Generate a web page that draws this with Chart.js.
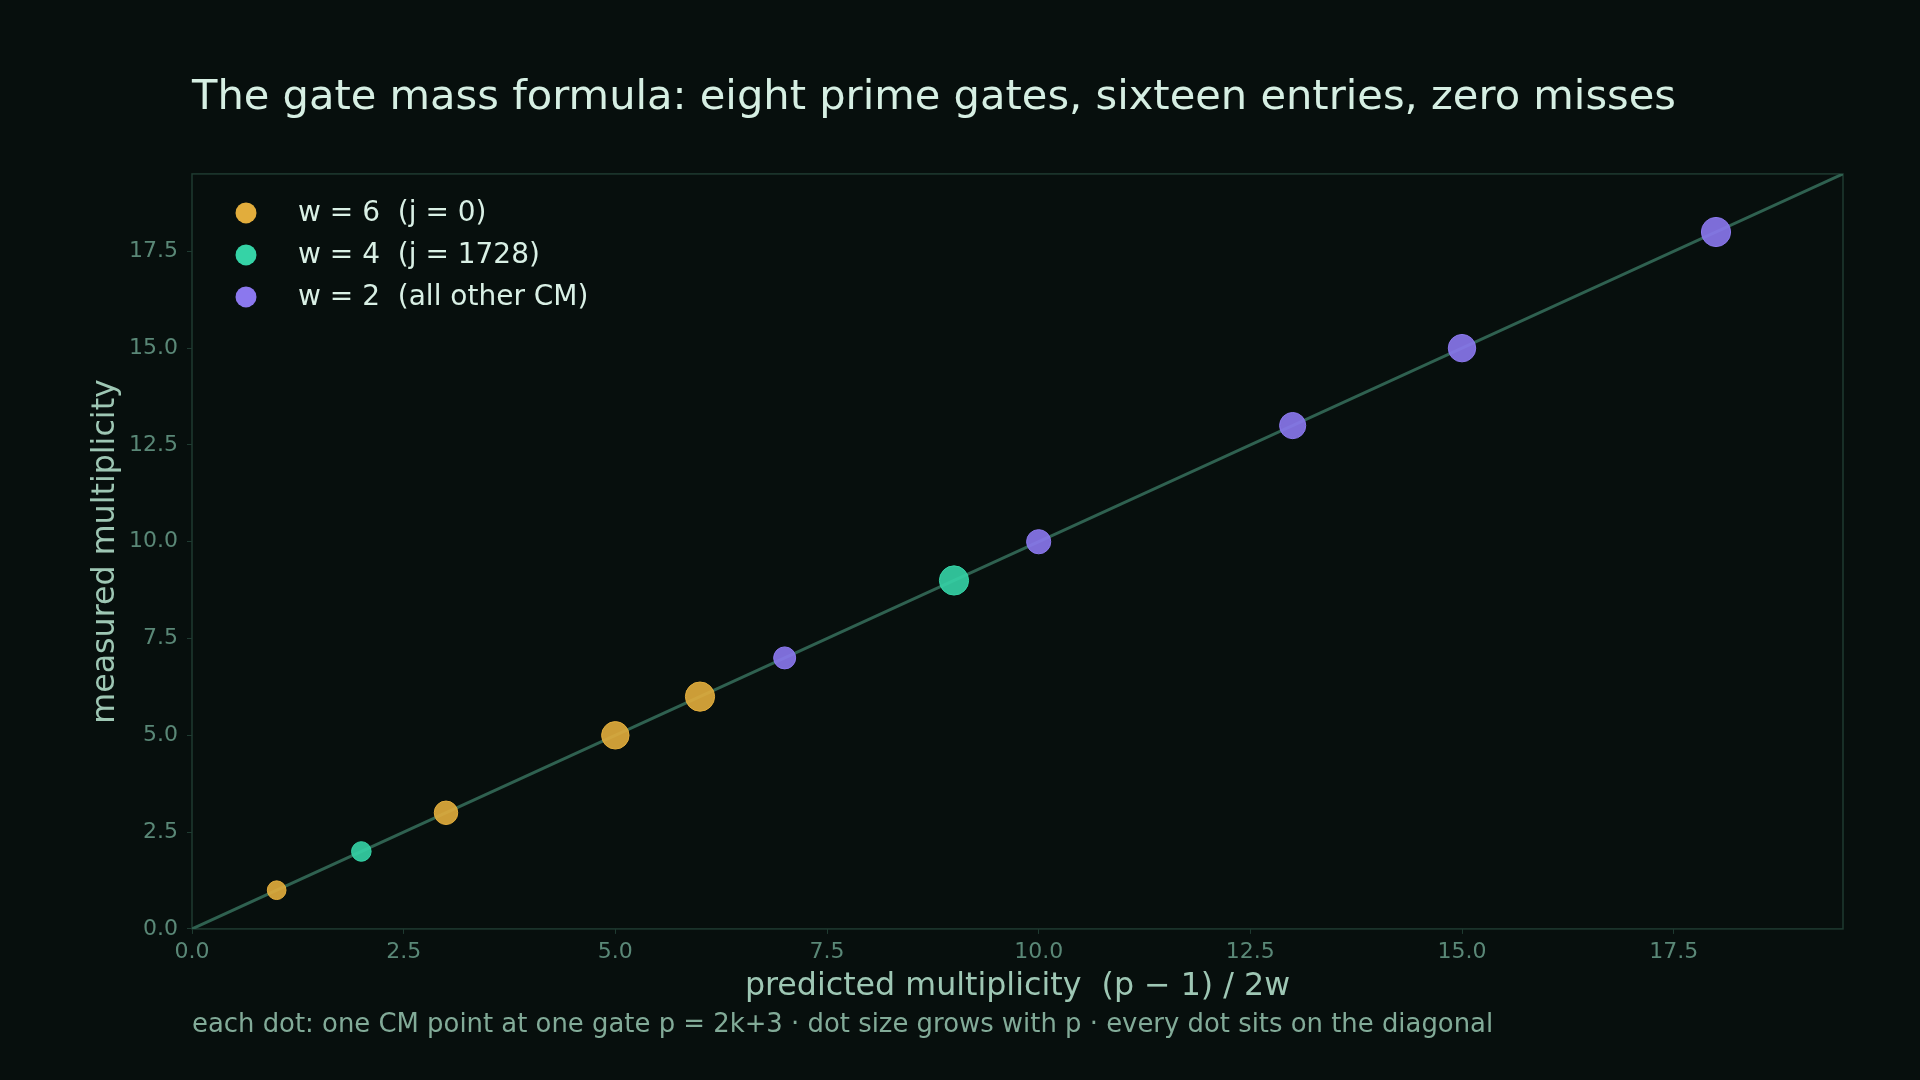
<!DOCTYPE html>
<html>
<head>
<meta charset="utf-8">
<script src="https://cdn.jsdelivr.net/npm/chart.js@4.4.1/dist/chart.umd.min.js"></script>
<style>
  html, body { margin: 0; padding: 0; background: #070f0d; }
  #wrap { width: 1920px; height: 1080px; }
</style>
</head>
<body>
<div id="wrap"><canvas id="chart" width="1920" height="1080"></canvas></div>
<script>
Chart.defaults.devicePixelRatio = 1;
Chart.defaults.responsive = false;
Chart.defaults.maintainAspectRatio = false;
Chart.defaults.font.family = '"DejaVu Sans", sans-serif';

// gates (primes p) and multiplicities, one list per weight class
const seriesLabels = ["w = 6  (j = 0)", "w = 4  (j = 1728)", "w = 2  (all other CM)"];
const w6Gates = [13, 37, 61, 73];
const w6Predicted = [1, 3, 5, 6];
const w6Measured = [1, 3, 5, 6];
const w4Gates = [17, 73];
const w4Predicted = [2, 9];
const w4Measured = [2, 9];
const w2Gates = [29, 41, 53, 61, 73];
const w2Predicted = [7, 10, 13, 15, 18];
const w2Measured = [7, 10, 13, 15, 18];
const diagonalEnds = [0, 19.5];
const axisMax = 19.5;
const tickStep = 2.5;

const BG = "#070f0d";
const FRAME = "#1f3b31";
const colors = ["#e2ad3c", "#35d3a6", "#8b78ee"];

function dotRadius(p) {
  return Math.sqrt(60 + 2.1 * p);
}

function toPoints(xs, ys) {
  return xs.map((x, i) => ({ x: x, y: ys[i] }));
}

function dotSet(label, xs, ys, gates, color) {
  return {
    type: "scatter",
    label: label,
    data: toPoints(xs, ys),
    backgroundColor: color + "e6",
    borderColor: color,
    borderWidth: 1,
    pointRadius: (c) => dotRadius(gates[c.dataIndex]),
    pointHoverRadius: (c) => dotRadius(gates[c.dataIndex]),
    inLegend: true,
    order: 0,
  };
}

const bgPlugin = {
  id: "bg",
  beforeDraw(chart) {
    const ctx = chart.ctx;
    ctx.save();
    ctx.fillStyle = BG;
    ctx.fillRect(0, 0, chart.width, chart.height);
    ctx.restore();
  },
};

const framePlugin = {
  id: "frame",
  beforeDatasetsDraw(chart) {
    const { ctx, chartArea } = chart;
    ctx.save();
    ctx.strokeStyle = FRAME;
    ctx.lineWidth = 1.5;
    ctx.strokeRect(chartArea.left, chartArea.top, chartArea.right - chartArea.left, chartArea.bottom - chartArea.top);
    ctx.restore();
  },
};

// legend drawn inside the plot, upper left
const insideLegend = {
  id: "insideLegend",
  afterDraw(chart) {
    const { ctx, chartArea } = chart;
    ctx.save();
    ctx.font = '28px "DejaVu Sans"';
    ctx.textBaseline = "middle";
    let row = 0;
    chart.data.datasets.forEach((ds) => {
      if (!ds.inLegend) return;
      const y = chartArea.top + 39 + row * 42;
      ctx.fillStyle = ds.borderColor;
      ctx.beginPath();
      ctx.arc(chartArea.left + 54, y, 10.5, 0, Math.PI * 2);
      ctx.fill();
      ctx.fillStyle = "#d9f0e5";
      ctx.fillText(ds.label, chartArea.left + 106, y + 1);
      row++;
    });
    ctx.restore();
  },
};

new Chart(document.getElementById("chart"), {
  data: {
    datasets: [
      {
        type: "line",
        label: "diagonal",
        data: toPoints(diagonalEnds, diagonalEnds),
        borderColor: "#2f6150",
        borderWidth: 3,
        pointRadius: 0,
        fill: false,
        order: 10,
      },
      dotSet(seriesLabels[0], w6Predicted, w6Measured, w6Gates, colors[0]),
      dotSet(seriesLabels[1], w4Predicted, w4Measured, w4Gates, colors[1]),
      dotSet(seriesLabels[2], w2Predicted, w2Measured, w2Gates, colors[2]),
    ],
  },
  options: {
    animation: false,
    layout: { padding: { left: 0, right: 77, top: 0, bottom: 0 } },
    plugins: {
      legend: { display: false },
      tooltip: { enabled: false },
      title: {
        display: true,
        text: "The gate mass formula: eight prime gates, sixteen entries, zero misses",
        align: "start",
        fullSize: false,
        color: "#d6efe3",
        font: { size: 41.6, weight: "normal" },
        padding: { top: 73, bottom: 51 },
      },
      subtitle: {
        display: true,
        position: "bottom",
        text: "each dot: one CM point at one gate p = 2k+3 \u00b7 dot size grows with p \u00b7 every dot sits on the diagonal",
        align: "start",
        fullSize: false,
        color: "#82ab98",
        font: { size: 25.9, weight: "normal" },
        padding: { top: 4, bottom: 39 },
      },
    },
    scales: {
      x: {
        type: "linear",
        min: 0,
        max: axisMax,
        border: { display: false },
        grid: { display: true, drawOnChartArea: false, drawTicks: true, tickLength: 5, color: FRAME },
        ticks: {
          stepSize: tickStep,
          includeBounds: false,
          padding: 5,
          color: "#5a8877",
          font: { size: 22 },
          callback: (v) => v.toFixed(1),
        },
        title: {
          display: true,
          text: "predicted multiplicity  (p \u2212 1) / 2w",
          color: "#9ec7b4",
          font: { size: 31.7 },
          padding: { top: 0, bottom: 0.5 },
        },
        afterFit: (s) => { s.height = 77; },
      },
      y: {
        type: "linear",
        min: 0,
        max: axisMax,
        border: { display: false },
        grid: { display: true, drawOnChartArea: false, drawTicks: true, tickLength: 5, color: FRAME },
        ticks: {
          stepSize: tickStep,
          includeBounds: false,
          padding: 9,
          color: "#5a8877",
          font: { size: 22 },
          callback: (v) => v.toFixed(1),
        },
        title: {
          display: true,
          text: "measured multiplicity",
          color: "#9ec7b4",
          font: { size: 31.7 },
          padding: { top: 86.4, bottom: 0 },
        },
        afterFit: (s) => { s.width = 192; },
      },
    },
  },
  plugins: [bgPlugin, framePlugin, insideLegend],
});
</script>
</body>
</html>
